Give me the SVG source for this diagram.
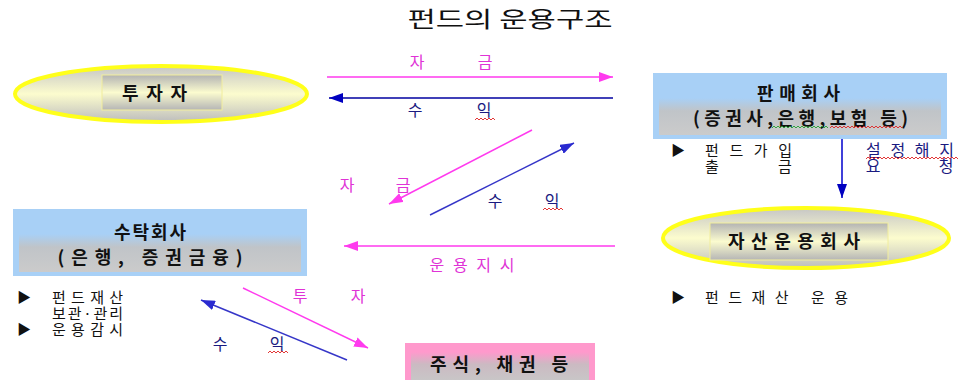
<svg xmlns="http://www.w3.org/2000/svg" width="958" height="380" viewBox="0 0 958 380">
<style>
text{font-family:"Noto Sans CJK KR","Noto Sans",sans-serif;}
.title{font-size:22px;fill:#111;}
.nb{font-size:18px;font-weight:bold;fill:#111;}
.lp{font-size:16px;fill:#e033d6;}
.lb{font-size:16px;fill:#1a1a80;}
.note{font-size:15px;fill:#111;}
.tri{font-size:14px;fill:#111;}
.ell{fill:url(#gEll);stroke:#ffff1a;stroke-width:4;}
.inner{fill:url(#gInner);stroke:#f2ee9c;stroke-width:1;}
.bbox{fill:#a8d0f6;}
.bin{fill:url(#gBlueIn);}
.pbox{fill:#ff99cc;}
.pin{fill:url(#gPinkIn);}
.ap{stroke:#ff3aee;stroke-width:1.5;fill:none;}
.an{stroke:#0000a0;stroke-width:1.5;fill:none;}
.ab{stroke:#3636c8;stroke-width:1.5;fill:none;}
.sqr{stroke:#e02020;stroke-width:0.9;fill:none;}
.sqg{stroke:#20a030;stroke-width:0.9;fill:none;}
</style>
<defs>
<linearGradient id="gEll" x1="0" y1="0" x2="0" y2="1">
<stop offset="0" stop-color="#c6c6c6"/>
<stop offset="0.5" stop-color="#fcfcce"/>
<stop offset="1" stop-color="#bdbdbd"/>
</linearGradient>
<linearGradient id="gInner" x1="0" y1="0" x2="0" y2="1">
<stop offset="0" stop-color="#b3b3b3"/>
<stop offset="0.5" stop-color="#fbfbcf"/>
<stop offset="1" stop-color="#b5b5b5"/>
</linearGradient>
<linearGradient id="gBlueIn" x1="0" y1="0" x2="0" y2="1">
<stop offset="0" stop-color="#a8d0f6"/>
<stop offset="0.35" stop-color="#c0c4c8"/>
<stop offset="1" stop-color="#cbcbcb"/>
</linearGradient>
<linearGradient id="gPinkIn" x1="0" y1="0" x2="0" y2="1">
<stop offset="0" stop-color="#ff99cc"/>
<stop offset="0.4" stop-color="#cbbac2"/>
<stop offset="1" stop-color="#c8c8c8"/>
</linearGradient>
<marker id="mp" markerWidth="14" markerHeight="10" refX="14" refY="5" orient="auto" markerUnits="userSpaceOnUse"><path d="M0,0 L14,5 L0,10 z" fill="#ff3aee"/></marker>
<marker id="mn" markerWidth="14" markerHeight="10" refX="14" refY="5" orient="auto" markerUnits="userSpaceOnUse"><path d="M0,0 L14,5 L0,10 z" fill="#0000c0"/></marker>
<marker id="mb" markerWidth="14" markerHeight="10" refX="14" refY="5" orient="auto" markerUnits="userSpaceOnUse"><path d="M0,0 L14,5 L0,10 z" fill="#2a2ad0"/></marker>
</defs>

<text class="title" x="510" y="27" text-anchor="middle" textLength="205" lengthAdjust="spacingAndGlyphs">펀드의 운용구조</text>

<g id="investor">
<ellipse class="ell" cx="161" cy="94" rx="146" ry="28"/>
<rect class="inner" x="102" y="75" width="120" height="35"/>
<text class="nb" x="154.5" y="100" text-anchor="middle" font-size="19" textLength="65" lengthAdjust="spacing">투자자</text>
</g>

<g id="sales">
<rect class="bbox" x="653" y="73" width="294" height="66"/>
<rect class="bin" x="659" y="98" width="282" height="37"/>
<text class="nb" x="798.5" y="100" text-anchor="middle" textLength="83" lengthAdjust="spacing">판매회사</text>
<text class="nb" x="800.5" y="125" text-anchor="middle" textLength="215" lengthAdjust="spacing">(증권사,은행,보험 등)</text>
<path class="sqg" d="M772 128 l2 -2 l2 2 l2 -2 l2 2 l2 -2 l2 2 l2 -2 l2 2 l2 -2 l2 2 l2 -2 l2 2 l2 -2 l2 2 l2 -2 l2 2 l2 -2 l2 2 l2 -2 l2 2 l2 -2 l2 2 l2 -2 l2 2 l2 -2 l2 2 l2 -2 l2 2"/>
<path class="sqr" d="M830 128 l2 -2 l2 2 l2 -2 l2 2 l2 -2 l2 2 l2 -2 l2 2 l2 -2 l2 2 l2 -2 l2 2 l2 -2 l2 2 l2 -2 l2 2 l2 -2 l2 2 l2 -2 l2 2 l2 -2 l2 2 l2 -2 l2 2 l2 -2 l2 2 l2 -2 l2 2 l2 -2 l2 2 l2 -2 l2 2 l2 -2 l2 2 l2 -2 l2 2"/>
</g>

<g id="trustee">
<rect class="bbox" x="13" y="209" width="294" height="67"/>
<rect class="bin" x="19" y="234" width="282" height="38"/>
<text class="nb" x="150" y="239" text-anchor="middle" textLength="72" lengthAdjust="spacing">수탁회사</text>
<text class="nb" x="150" y="264" text-anchor="middle" textLength="185" lengthAdjust="spacing">(은행, 증권금융)</text>
</g>

<g id="amc">
<ellipse class="ell" cx="806" cy="238" rx="143" ry="30"/>
<rect class="inner" x="710" y="223" width="178" height="37"/>
<text class="nb" x="794" y="248" text-anchor="middle" font-size="19" textLength="132" lengthAdjust="spacing">자산운용회사</text>
</g>

<g id="securities">
<rect class="pbox" x="405" y="343" width="190" height="40"/>
<rect class="pin" x="411" y="352" width="178" height="31"/>
<text class="nb" x="499" y="371" text-anchor="middle" textLength="138" lengthAdjust="spacing">주식, 채권 등</text>
</g>

<g id="connectors">
<path class="ap" d="M327 77 L613 77" marker-end="url(#mp)"/>
<path class="an" d="M613 98 L329 98" marker-end="url(#mn)"/>
<path class="ap" d="M532 130 L389 204" marker-end="url(#mp)"/>
<path class="ab" d="M430 215 L574 143" marker-end="url(#mb)"/>
<path d="M842 139 L842 198" stroke="#0000cc" stroke-width="1.5" fill="none" marker-end="url(#mn)"/>
<path class="ap" d="M615 246 L344 246" marker-end="url(#mp)"/>
<path class="ap" d="M243 288 L368 348" marker-end="url(#mp)"/>
<path class="ab" d="M347 360 L201 300" marker-end="url(#mb)"/>
</g>

<g id="labels">
<text class="lp" y="68" text-anchor="middle"><tspan x="417">자</tspan><tspan x="485">금</tspan></text>
<text class="lb" y="116" text-anchor="middle"><tspan x="415">수</tspan><tspan x="484">익</tspan></text>
<path class="sqr" d="M475 120 l2 -2 l2 2 l2 -2 l2 2 l2 -2 l2 2 l2 -2 l2 2 l2 -2 l2 2"/>
<text class="lp" y="191" text-anchor="middle"><tspan x="347">자</tspan><tspan x="403">금</tspan></text>
<text class="lb" y="207" text-anchor="middle"><tspan x="495">수</tspan><tspan x="552">익</tspan></text>
<path class="sqr" d="M543 210 l2 -2 l2 2 l2 -2 l2 2 l2 -2 l2 2 l2 -2 l2 2 l2 -2 l2 2"/>
<text class="lp" x="472" y="271" text-anchor="middle" textLength="85" lengthAdjust="spacing">운용지시</text>
<text class="lp" y="302" text-anchor="middle"><tspan x="300">투</tspan><tspan x="358">자</tspan></text>
<text class="lb" y="350" text-anchor="middle"><tspan x="220">수</tspan><tspan x="277">익</tspan></text>
<path class="sqr" d="M268 353 l2 -2 l2 2 l2 -2 l2 2 l2 -2 l2 2 l2 -2 l2 2 l2 -2 l2 2"/>
</g>

<g id="notes">
<text class="tri" x="671" y="155">▶</text>
<text class="note" x="705" y="156" textLength="87" lengthAdjust="spacing">펀드가입</text>
<text class="note" y="172" text-anchor="middle"><tspan x="712">출</tspan><tspan x="785">금</tspan></text>
<text class="lb" x="866" y="156" textLength="88" lengthAdjust="spacing">설정해지</text>
<path class="sqr" d="M866 159 l2 -2 l2 2 l2 -2 l2 2 l2 -2 l2 2 l2 -2 l2 2 l2 -2 l2 2 l2 -2 l2 2 l2 -2 l2 2 l2 -2 l2 2 l2 -2 l2 2 l2 -2 l2 2 l2 -2 l2 2 l2 -2 l2 2 l2 -2 l2 2 l2 -2 l2 2 l2 -2 l2 2 l2 -2 l2 2 l2 -2 l2 2 l2 -2 l2 2 l2 -2 l2 2 l2 -2 l2 2 l2 -2 l2 2 l2 -2 l2 2 l2 -2 l2 2"/>
<text class="lb" y="172" text-anchor="middle"><tspan x="873">요</tspan><tspan x="946">청</tspan></text>
<text class="tri" x="671" y="302">▶</text>
<text class="note" x="705" y="303" textLength="143" lengthAdjust="spacing">펀드재산 운용</text>
<text class="tri" x="17" y="302">▶</text>
<text class="note" x="52" y="303" textLength="71" lengthAdjust="spacing">펀드재산</text>
<text class="note" x="52" y="319" textLength="71" lengthAdjust="spacing">보관·관리</text>
<text class="tri" x="17" y="334">▶</text>
<text class="note" x="52" y="335" textLength="71" lengthAdjust="spacing">운용감시</text>
</g>
</svg>
